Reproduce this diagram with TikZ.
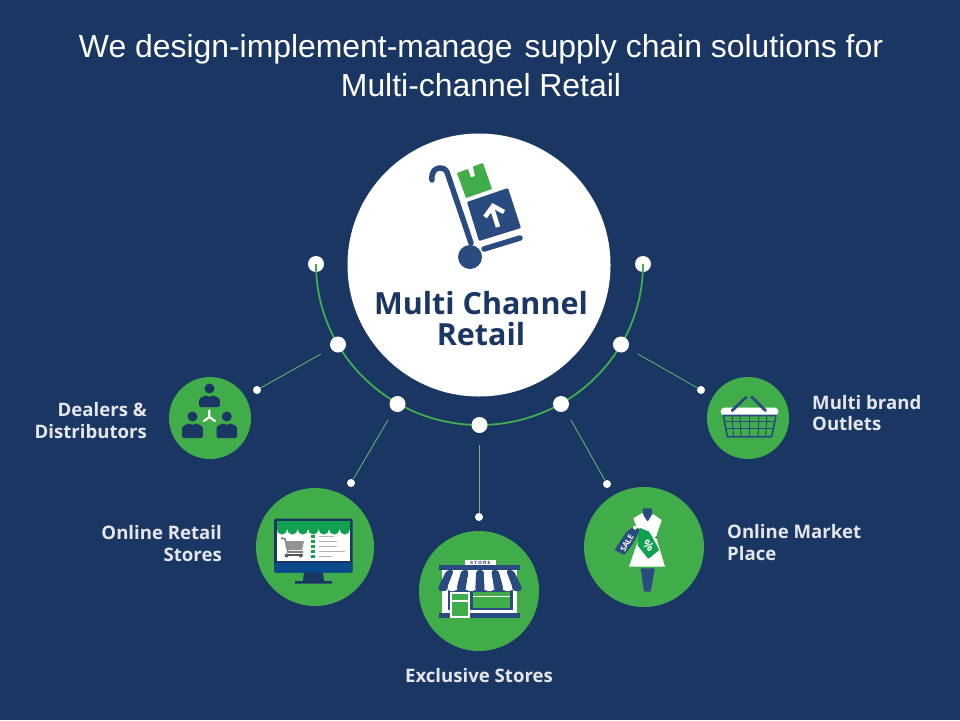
\documentclass[tikz,border=0pt]{standalone}
\usepackage{fontspec}
\setmainfont{Liberation Sans}
\newfontfamily\labfont{Open Sans}
\definecolor{bgblue}{HTML}{1A3763}
\definecolor{navy}{HTML}{2A4B7F}
\definecolor{leaf}{HTML}{40AD4A}
\definecolor{labgray}{HTML}{E4E6EA}
\definecolor{arcgreen}{HTML}{3FAE4E}
\definecolor{deepgreen}{HTML}{10A050}
\definecolor{chin}{HTML}{0A4A8A}
\tikzset{
  titletext/.style={text=white,font=\fontsize{31.9}{36}\selectfont,inner sep=0pt,anchor=base},
  hubtext/.style={text=bgblue,font=\labfont\bfseries\fontsize{30.5}{31}\selectfont,inner sep=0pt,align=center},
  labeltext/.style={text=labgray,font=\labfont\bfseries\fontsize{18.6}{21.5}\selectfont,inner sep=0pt},
  bead/.style={circle,fill=white,inner sep=0pt,minimum size=16pt},
  tipdot/.style={circle,fill=white,inner sep=0pt,minimum size=8pt},
  disc/.style={circle,fill=leaf,inner sep=0pt},
  wire/.style={draw=arcgreen!80!white,line width=0.8pt},
}
\newcommand{\person}[3]{% centre x, head y, body height
  \fill[bgblue] (#1,#2) circle[radius=5];
  \fill[bgblue,rounded corners=1.5pt] (#1-10.3,#2+7+#3) -- (#1-10.3,#2+10) -- (#1-3,#2+6.5) -- (#1,#2+9) -- (#1+3,#2+6.5) -- (#1+10.3,#2+10) -- (#1+10.3,#2+7+#3) -- cycle;
}
\begin{document}
\begin{tikzpicture}[x=1pt,y=-1pt]
\useasboundingbox (0,0) rectangle (960,720);
\fill[bgblue] (0,0) rectangle (960,720);

\node[titletext] (title1) at (481,57) {We design-implement-manage\hspace{0.1em} supply chain solutions for};
\node[titletext] (title2) at (481,96) {Multi-channel Retail};

% hub
\node[circle,fill=white,minimum size=263pt,inner sep=0pt] (hub) at (479,265) {};
\node[hubtext] (hubtitle) at (481,319) {Multi Channel\\[0pt]Retail};

% arc beads
\node[bead] (endL) at (316,264) {};
\node[bead] (endR) at (643,264) {};
\draw[draw=arcgreen,line width=1.8pt] (endL.center) arc[start angle=180,end angle=0,x radius=163.5,y radius=161];
\node[bead] (b1) at (338,344.5) {};
\node[bead] (b2) at (397.5,404) {};
\node[bead] (b3) at (479.5,425) {};
\node[bead] (b4) at (561,404) {};
\node[bead] (b5) at (621,344.5) {};

% discs
\node[disc,minimum size=82pt] (d1) at (210,418) {};
\node[disc,minimum size=118pt] (d2) at (315,547) {};
\node[disc,minimum size=120pt] (d3) at (479,591) {};
\node[disc,minimum size=120pt] (d4) at (644,547) {};
\node[disc,minimum size=82pt] (d5) at (748,418) {};

% connectors
\coordinate (c1) at (321,354);\coordinate (c2) at (388,420);\coordinate (c3) at (479,445);\coordinate (c4) at (571,420);\coordinate (c5) at (638,354);
\node[tipdot] (t1) at (257,390) {};
\node[tipdot] (t2) at (351,483) {};
\node[tipdot] (t3) at (479,517) {};
\node[tipdot] (t4) at (607,484) {};
\node[tipdot] (t5) at (701,390) {};
\draw[wire] (c1) -- (t1);\draw[wire] (c2) -- (t2);\draw[wire] (c3) -- (t3);\draw[wire] (c4) -- (t4);\draw[wire] (c5) -- (t5);

% labels
\node[labeltext,anchor=east,align=right] (l1) at (147,420.5) {Dealers \&\\Distributors};
\node[labeltext,anchor=east,align=right] (l2) at (222,543.5) {Online Retail\\Stores};
\node[labeltext] (l3) at (479,676) {Exclusive Stores};
\node[labeltext,anchor=west,align=left] (l4) at (727,542.5) {Online Market\\Place};
\node[labeltext,anchor=west,align=left] (l5) at (812,413) {Multi brand\\Outlets};

% trolley icon
\draw[navy,line width=5.5pt,line cap=round] (432,180) .. controls (431,171) and (436,168) .. (440,168) .. controls (445,168) and (447,171) .. (448,175) -- (471,243);
\fill[navy] (470,257) circle[radius=12];
\draw[navy,line width=5.5pt,line cap=round] (484,249) -- (520,238);
\fill[navy,rounded corners=1pt] (467,202) -- (508,188) -- (521,228) -- (479,241) -- cycle;
\fill[leaf,rounded corners=0.5pt] (457,173) -- (468,169) -- (471,177.5) -- (475,176) -- (473,166.5) -- (483,163) -- (492,189) -- (466,198) -- cycle;
\draw[white,line width=4.5pt] (498,227) -- (492,208);
\draw[white,line width=4.5pt] (485,217) -- (493,206) -- (504,212);

% dealers icon
\person{209.5}{388.5}{11.5}
\person{192.5}{416.5}{14.5}
\person{226.8}{416.5}{14.5}
\draw[white,line width=2.2pt,line cap=round] (209.3,417) -- (209.3,410.5) (209.3,417) -- (204,421) (209.3,417) -- (215,421);

% monitor icon
\fill[bgblue] (304,572) -- (323,572) -- (324,581) -- (332,581) -- (332,583.5) -- (295,583.5) -- (295,581) -- (303,581) -- cycle;
\fill[bgblue,rounded corners=1.5pt] (274,518.5) rectangle (352.7,572.5);
\fill[chin,rounded corners=1.5pt] (274,563) rectangle (352.7,572.5);
\fill[white] (276.7,521) rectangle (350,561);
\fill[deepgreen] (276.7,521) rectangle (350,529);
\foreach \i in {0,...,6}{\fill[deepgreen] (276.7+\i*10.47,529) arc[start angle=180,end angle=0,x radius=5.24,y radius=5.5] -- cycle;}
\draw[gray,line width=1.6pt] (281,538) -- (285,539) -- (288,552) -- (303,552);
\fill[gray!85] (285,541) -- (304,541) -- (302,550) -- (288,550) -- cycle;
\fill[gray!70!black] (286.7,555.5) circle[radius=2] (300.7,555.5) circle[radius=2];
\draw[gray!70!black,line width=1.2pt] (285,555) -- (303,555);
\foreach \y/\e in {536.7/334,541.7/337,546.7/337,551.7/345,556.7/332}{
  \fill[deepgreen] (311.3,\y-1.6) rectangle (315.3,\y+1.6);
  \draw[gray!60,line width=1.2pt] (319.3,\y) -- (\e,\y);}

% store icon
\fill[white] (465,560) rectangle (495.7,565);
\node[inner sep=0pt,text=bgblue,font=\bfseries\fontsize{4.5}{5}\selectfont] (storesign) at (480.3,562.6) {S T O R E};
\fill[navy] (439,565) rectangle (520.3,570);
\fill[white] (441.7,570) rectangle (516.7,613);
\fill[navy] (448,590) rectangle (513,610);
\fill[leaf] (473,592) rectangle (510,607.5);
\draw[white,line width=0.8pt] (473,596.3) -- (510,596.3);
\foreach \i in {0,...,8}{
  \pgfmathsetmacro{\a}{446.7+\i*7.4}\pgfmathsetmacro{\b}{\a+7.4}
  \pgfmathsetmacro{\c}{438.3+\i*9.27}\pgfmathsetmacro{\d}{\c+9.27}
  \pgfmathtruncatemacro{\m}{mod(\i,2)}
  \ifnum\m=0 \fill[navy,rounded corners=3pt] (\a,570) -- (\b,570) -- (\d,587) -- (\d,591) -- (\c,591) -- (\c,587) -- cycle;
  \else \fill[white,rounded corners=3pt] (\a,570) -- (\b,570) -- (\d,587) -- (\d,591) -- (\c,591) -- (\c,587) -- cycle; \fi
}
\fill[navy] (439,612.7) rectangle (520.3,618.3);
\fill[white] (450,591.7) rectangle (470,617.5);
\fill[leaf] (452,593.7) rectangle (468,600);
\fill[leaf] (452,602) rectangle (468,615.5);

% dress icon
\fill[navy] (640.7,568.3) -- (654.7,568.3) -- (650.7,591.7) -- (644,591.7) -- cycle;
\fill[white] (641.7,513.3) -- (633.3,518.3) -- (640,535) -- (629,566.7) -- (665,566.7) -- (656,536.7) -- (661.7,520) -- (653.3,514.3) -- cycle;
\fill[navy,rounded corners=1pt] (642.7,508.3) -- (651.7,508.3) -- (652.7,513.3) -- (647.7,521.7) -- (643.3,515) -- cycle;
\draw[navy,line width=1pt] (655,537) -- (658,537);
\fill[navy,rounded corners=1pt] (614.3,550) -- (626.7,531.7) -- (635,525.7) -- (640,530) -- (632,545) -- (624.3,555) -- cycle;
\node[inner sep=0pt,text=white,rotate=60,font=\labfont\bfseries\fontsize{8}{9}\selectfont] (saletag) at (627,543) {SALE};
\fill[deepgreen,rounded corners=1pt] (639.3,527.7) -- (649.3,531.7) -- (659.3,550) -- (648.3,559) -- (637.3,545) -- cycle;
\fill[white] (635,527.7) circle[radius=2];
\node[inner sep=0pt,text=white,rotate=-40,font=\labfont\bfseries\fontsize{12}{13}\selectfont] (pct) at (648.5,545.5) {\%};

% basket icon
\fill[white,rounded corners=3.5pt] (720.7,407.7) rectangle (778.3,415.5);
\draw[navy,line width=2.8pt,line cap=round] (732,410.7) -- (746,397.3) (751.7,397) -- (765.7,410.7);
\draw[navy,line width=1.6pt,line join=round] (723.3,415.5) -- (776,415.5) -- (771.7,436.7) -- (727.3,436.7) -- cycle;
\draw[navy,line width=1pt] (724.4,421.7) -- (774.8,421.7) (725.7,428.7) -- (773.4,428.7);
\foreach \t/\b in {732/733.5,740/741,749.6/749.6,759/758,767/765.5}{\draw[navy,line width=1pt] (\t,415.5) -- (\b,436.7);}
\end{tikzpicture}
\end{document}
